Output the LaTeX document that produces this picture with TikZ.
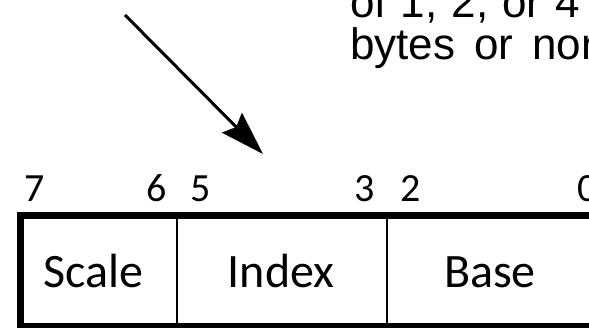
\documentclass[tikz,border=0pt]{standalone}
\usepackage{fontspec}
\setmainfont{Liberation Sans}
\newfontfamily\labfont{Carlito}
\usetikzlibrary{arrows.meta}
\begin{document}
\begin{tikzpicture}[x=1pt,y=1pt,
  digit/.style={font=\labfont\fontsize{40}{40}\selectfont, inner sep=0pt, anchor=base},
  field/.style={font=\labfont\fontsize{48}{48}\selectfont, inner sep=0pt, anchor=base},
  note/.style={font=\fontsize{44}{44}\selectfont, inner sep=0pt, anchor=base west},
  outer/.style={line width=7pt},
  divider/.style={line width=2pt},
  pointer/.style={line width=3pt, -{Stealth[length=44pt,width=28pt,inset=6pt]}}]
\useasboundingbox (0,0) rectangle (589,327);
\clip (0,0) rectangle (589,327);
% note text (cut off at the right edge)
\node[note] (l1) at (350,309) {of\hspace{14pt}1,\hspace{14pt}2,\hspace{14pt}or\hspace{14pt}4};
\node[note] (l2) at (350,267) {bytes\hspace{19pt}or\hspace{19pt}nor};
% arrow
\coordinate (as) at (125,312);
\coordinate (at) at (263,173);
\draw[pointer] (as) -- (at);
% bit numbers
\node[digit] (b7) at (35,125) {7};
\node[digit] (b6) at (157,125) {6};
\node[digit] (b5) at (201,125) {5};
\node[digit] (b3) at (365,125) {3};
\node[digit] (b2) at (411,125) {2};
\node[digit] (b0) at (588,125) {0};
% box
\coordinate (bl) at (20,0.5);
\coordinate (tr) at (640,111.5);
\draw[outer] (bl) rectangle (tr);
\coordinate (d1t) at (177,111.5);
\coordinate (d1b) at (177,0.5);
\coordinate (d2t) at (387,111.5);
\coordinate (d2b) at (387,0.5);
\draw[divider] (d1t) -- (d1b);
\draw[divider] (d2t) -- (d2b);
% fields
\node[field] (scale) at (93,40) {Scale};
\node[field] (index) at (281,40) {Index};
\node[field] (base) at (490,40) {Base};
\end{tikzpicture}
\end{document}
